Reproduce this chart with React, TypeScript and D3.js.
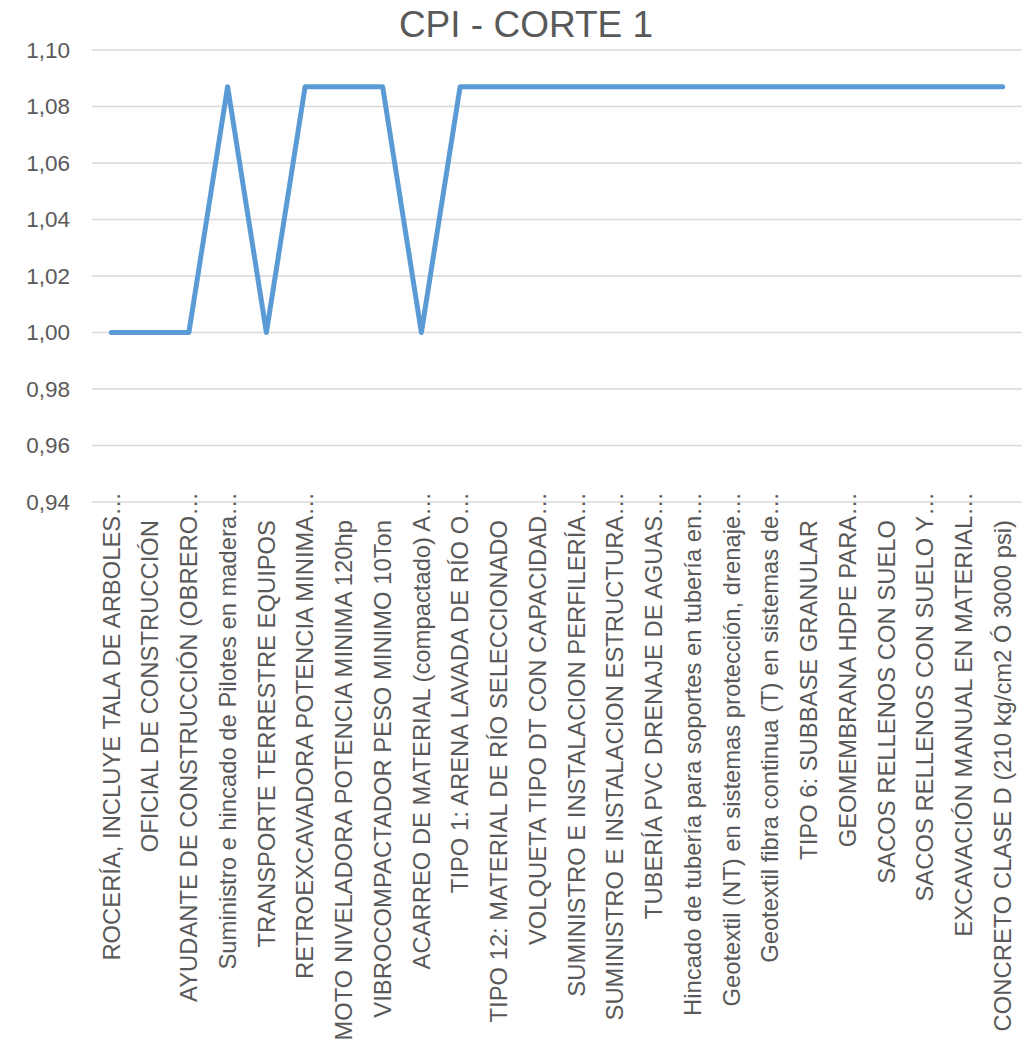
import { useEffect, useRef } from 'react';
import * as d3 from 'd3';

const categories = [
  'ROCERÍA, INCLUYE TALA DE ARBOLES…',
  'OFICIAL DE CONSTRUCCIÓN',
  'AYUDANTE DE CONSTRUCCIÓN (OBRERO…',
  'Suministro e hincado de Pilotes en madera…',
  'TRANSPORTE TERRESTRE EQUIPOS',
  'RETROEXCAVADORA POTENCIA MINIMA…',
  'MOTO NIVELADORA POTENCIA MINIMA 120hp',
  'VIBROCOMPACTADOR PESO MINIMO 10Ton',
  'ACARREO DE MATERIAL (compactado) A…',
  'TIPO 1: ARENA LAVADA DE RÍO O…',
  'TIPO 12: MATERIAL DE RÍO SELECCIONADO',
  'VOLQUETA TIPO DT CON CAPACIDAD…',
  'SUMINISTRO E INSTALACION PERFILERÍA…',
  'SUMINISTRO E INSTALACION ESTRUCTURA…',
  'TUBERÍA PVC DRENAJE DE AGUAS…',
  'Hincado de tubería para soportes en tubería en…',
  'Geotextil (NT) en sistemas protección, drenaje…',
  'Geotextil fibra continua (T) en sistemas de…',
  'TIPO 6: SUBBASE GRANULAR',
  'GEOMEMBRANA HDPE PARA…',
  'SACOS RELLENOS CON SUELO',
  'SACOS RELLENOS CON SUELO Y…',
  'EXCAVACIÓN MANUAL EN MATERIAL…',
  'CONCRETO CLASE D (210 kg/cm2 Ó 3000 psi)',
];

const cpiValues = [
  1.0, 1.0, 1.0, 1.087, 1.0, 1.087, 1.087, 1.087, 1.0, 1.087, 1.087, 1.087,
  1.087, 1.087, 1.087, 1.087, 1.087, 1.087, 1.087, 1.087, 1.087, 1.087, 1.087, 1.087,
];

const yTicks = [0.94, 0.96, 0.98, 1.0, 1.02, 1.04, 1.06, 1.08, 1.1];

const title = 'CPI - CORTE 1';

export default function App() {
  const svgRef = useRef<SVGSVGElement | null>(null);

  useEffect(() => {
    if (!svgRef.current) return;
    const svg = d3.select(svgRef.current);
    svg.selectAll('*').remove();

    const width = 1026;
    const height = 1050;
    const left = 92;
    const right = 1022;
    const top = 50;
    const bottom = 502;
    const font = 'Arial, "Liberation Sans", sans-serif';

    const x = d3.scaleBand<string>().domain(categories).range([left, right]);
    const y = d3.scaleLinear().domain([0.94, 1.1]).range([bottom, top]);

    svg.attr('width', width).attr('height', height);

    // Title
    svg.append('text')
      .attr('x', 526)
      .attr('y', 37)
      .attr('text-anchor', 'middle')
      .attr('font-family', font)
      .attr('font-size', 37)
      .attr('fill', '#595959')
      .text(title);

    // Gridlines
    svg.append('g')
      .selectAll('line')
      .data(yTicks)
      .join('line')
      .attr('x1', left)
      .attr('x2', right)
      .attr('y1', d => y(d))
      .attr('y2', d => y(d))
      .attr('stroke', '#d9d9d9')
      .attr('stroke-width', 1.5);

    // Y tick labels
    const fmt = (v: number) => v.toFixed(2).replace('.', ',');
    svg.append('g')
      .selectAll('text')
      .data(yTicks)
      .join('text')
      .attr('x', 70)
      .attr('y', d => y(d))
      .attr('dy', '0.35em')
      .attr('text-anchor', 'end')
      .attr('font-family', font)
      .attr('font-size', 22.5)
      .attr('fill', '#595959')
      .text(d => fmt(d));

    // X category labels (rotated)
    svg.append('g')
      .selectAll('text')
      .data(categories)
      .join('text')
      .attr('transform', d => {
        const cx = (x(d) as number) + x.bandwidth() / 2;
        const ty = d.endsWith('…') ? 492 : 520;
        return `translate(${cx},${ty}) rotate(-90)`;
      })
      .attr('dy', '0.35em')
      .attr('text-anchor', 'end')
      .attr('font-family', font)
      .attr('font-size', 23.8)
      .attr('fill', '#595959')
      .text(d => d);

    // Line
    const line = d3.line<number>()
      .x((_, i) => (x(categories[i]) as number) + x.bandwidth() / 2)
      .y(d => y(d));

    svg.append('path')
      .datum(cpiValues)
      .attr('fill', 'none')
      .attr('stroke', '#5b9bd5')
      .attr('stroke-width', 5)
      .attr('stroke-linejoin', 'round')
      .attr('stroke-linecap', 'round')
      .attr('d', line);
  }, []);

  return (
    <div style={{ position: 'absolute', left: 0, top: 0, background: '#ffffff' }}>
      <svg ref={svgRef} style={{ display: 'block' }} />
    </div>
  );
}
